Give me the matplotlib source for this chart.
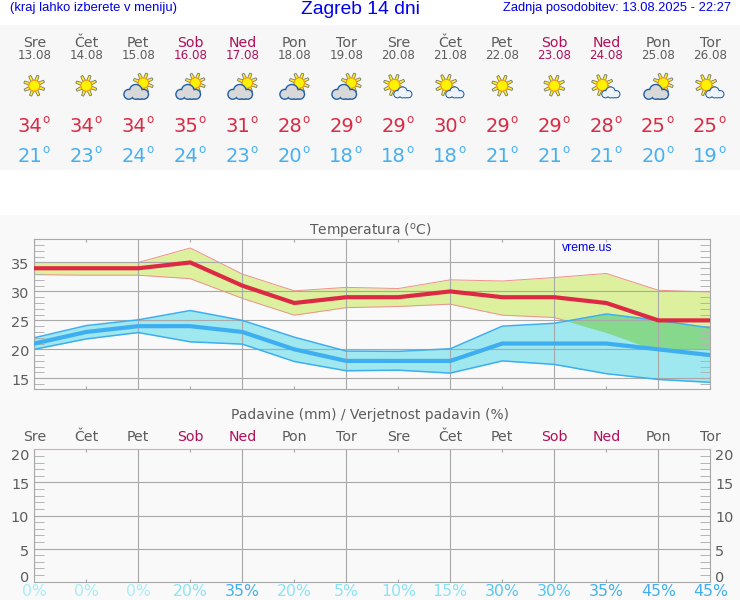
"""Zagreb 14 dni: napoved temperature in padavin."""
import matplotlib

matplotlib.use("Agg")
import matplotlib.pyplot as plt
import numpy as np
from matplotlib.patches import Circle, Polygon, Rectangle

# --- podatki ---
DAYS = ["Sre", "Čet", "Pet", "Sob", "Ned", "Pon", "Tor", "Sre", "Čet", "Pet", "Sob", "Ned", "Pon", "Tor"]
DATES = ["13.08", "14.08", "15.08", "16.08", "17.08", "18.08", "19.08",
         "20.08", "21.08", "22.08", "23.08", "24.08", "25.08", "26.08"]
ICONS = ["sun", "sun", "cloud", "cloud", "cloud", "cloud", "cloud",
         "mix", "mix", "sun", "sun", "mix", "cloud", "mix"]
T_MAX = [34, 34, 34, 35, 31, 28, 29, 29, 30, 29, 29, 28, 25, 25]
T_MIN = [21, 23, 24, 24, 23, 20, 18, 18, 18, 21, 21, 21, 20, 19]
MAX_HI = [35, 35, 35, 37.5, 33, 30.1, 30.7, 30.5, 32, 31.8, 32.4, 33.1, 30.2, 29.9]
MAX_LO = [32.9, 32.8, 32.8, 32.2, 28.8, 25.9, 27.2, 27.4, 27.8, 25.9, 25.5, 22.9, 19.7, 20.2]
MIN_HI = [22, 24.1, 25.1, 26.7, 25, 22.1, 19.7, 19.65, 20.1, 24, 24.5, 26.1, 25, 23.7]
MIN_LO = [20, 21.8, 22.9, 21.3, 20.9, 17.9, 16.3, 16.4, 15.9, 18, 17.4, 15.8, 14.8, 14.3]
RAIN = [0] * 14
RAIN_PROB = [0, 0, 0, 20, 35, 20, 5, 10, 15, 30, 30, 35, 45, 45]

# --- barve ---
GREY = "#5c5c5c"
WEEKEND = "#b0105a"
RED = "#dc2a44"
BLUE = "#3eaef0"
GRID = "#a8a8a8"
W, H = 740, 600
X0, X1 = 34.3, 710.3
STEP = (X1 - X0) / 13
x = np.arange(14)


def px_axes(fig, left, top, right, bottom):
    return fig.add_axes([left / W, 1 - bottom / H, (right - left) / W, (bottom - top) / H])


def prob_color(p):
    if p == 0:
        return "#a5eefa"
    if p <= 20:
        return "#8ae4f7"
    if p <= 30:
        return "#55c6f4"
    return "#42aff0"


def draw_sun(ax, cx, cy, r, zorder=3):
    # 8 zarkov, nato sredica
    for a in np.arange(0, 2 * np.pi, np.pi / 4) + 0.35:
        ca, sa = np.cos(a), np.sin(a)
        corners = []
        for dist, half in ((r * 0.9, 1.5), (r * 1.95, 1.1)):
            corners.append((cx + ca * dist - sa * half, cy + sa * dist + ca * half))
            corners.insert(0, (cx + ca * dist + sa * half, cy + sa * dist - ca * half))
        ax.add_patch(Polygon(corners, fc="#fff02a", ec="#77776a", lw=0.6, zorder=zorder))
    ax.add_patch(Circle((cx, cy), r, fc="#fff200", ec="#f09a18", lw=0.8, zorder=zorder + 0.1))


def draw_cloud(ax, cx, cy, scale, fill, zorder=4):
    # silueta iz krogov: najprej rob, nato polnilo
    blobs = [(-8, 2.3, 4.2), (-1, -1.2, 5.6), (6.8, 2.3, 4.2), (-1, 2.6, 4.0), (3, 2.4, 4.2)]
    for grow, col, z in ((1.4, "#1f5fa8", 0), (0, fill, 0.1)):
        for dx, dy, r in blobs:
            ax.add_patch(Circle((cx + dx * scale, cy + dy * scale), (r + grow) * scale,
                                fc=col, ec="none", zorder=zorder + z))


def degree_text(ax, cx, cy, value, color):
    ax.text(cx + 7.7, cy, str(value), color=color, fontsize=14, ha="right", va="center_baseline")
    ax.text(cx + 8.3, cy - 6.7, "o", color=color, fontsize=8.6, ha="left", va="center_baseline")


def draw_header(bg):
    bg.add_patch(Rectangle((0, 25), W, 145, fc="#f7f7f7", ec="none", zorder=0))
    bg.add_patch(Rectangle((0, 215), W, 385, fc="#f9f9f9", ec="none", zorder=0))
    bg.text(10, 7.5, "(kraj lahko izberete v meniju)", color="#0000e6", fontsize=9.4,
            family="Liberation Sans", va="center")
    bg.text(360, 10, "Zagreb 14 dni", color="#0000f0", fontsize=13.9,
            family="Liberation Sans", ha="center", va="center")
    bg.text(731, 7.5, "Zadnja posodobitev: 13.08.2025 - 22:27", color="#0000e6", fontsize=9.3,
            family="Liberation Sans", ha="right", va="center")
    for i in range(14):
        cx = X0 + i * STEP
        col = WEEKEND if DAYS[i] in ("Sob", "Ned") else GREY
        bg.text(cx, 43, DAYS[i], color=col, fontsize=10.2, ha="center", va="center")
        bg.text(cx, 55.5, DATES[i], color=col, fontsize=8.6, ha="center", va="center")
        if ICONS[i] == "sun":
            draw_sun(bg, cx, 85.7, 5.5)
        elif ICONS[i] == "cloud":
            draw_sun(bg, cx + 5, 83, 5.2)
            draw_cloud(bg, cx - 1.5, 92, 1.0, "#d8d8d8")
        else:
            draw_sun(bg, cx - 4, 85, 5.6)
            draw_cloud(bg, cx + 5, 92.5, 0.74, "#eef4fa")
        degree_text(bg, cx, 125, T_MAX[i], RED)
        degree_text(bg, cx, 155, T_MIN[i], "#45b0f2")


def style_axes(ax, ymin, ymax, major, minor):
    ax.set_xlim(0, 13)
    ax.set_ylim(ymin, ymax)
    ax.set_facecolor("none")
    ax.set_xticks(np.arange(0, 14, 2))
    ax.set_xticks(np.arange(1, 14, 2), minor=True)
    ax.set_yticks(major)
    ax.set_yticks(minor, minor=True)
    ax.grid(True, which="major", color=GRID, lw=0.8)
    ax.tick_params(which="major", labelbottom=False, labelleft=False, left=False, bottom=False)
    for side in ax.spines.values():
        side.set_color(GRID)
        side.set_linewidth(0.8)
    ax.tick_params(axis="x", which="minor", bottom=True, top=True, length=2.2, width=0.8,
                   color=GRID, direction="in", labelbottom=False)
    ax.tick_params(axis="y", which="minor", left=True, right=True, length=7.5, width=0.7,
                   color="#b4b4b4", direction="in", labelleft=False)


def y_label(ax, value, offset, side="left"):
    tr = ax.get_yaxis_transform()
    px = -5 if side == "left" else 5
    ax.annotate(str(value), (0 if side == "left" else 1, value), xycoords=tr,
                xytext=(px * 0.72, offset * 0.72), textcoords="offset points",
                ha="right" if side == "left" else "left", va="center", color=GREY,
                fontsize=10.4, annotation_clip=False)


fig = plt.figure(figsize=(W / 100, H / 100), dpi=100, facecolor="white")
bg = fig.add_axes([0, 0, 1, 1], zorder=0)
bg.set_xlim(0, W)
bg.set_ylim(H, 0)
bg.axis("off")
draw_header(bg)

# --- temperatura ---
ax = px_axes(fig, X0, 239.3, X1, 389)
style_axes(ax, 13.15, 39, [15, 20, 25, 30, 35],
           [v for v in range(14, 39) if v % 5])
hi_r, lo_r, hi_b, lo_b = map(np.array, (MAX_HI, MAX_LO, MIN_HI, MIN_LO))
ax.fill_between(x, lo_r, hi_r, color="#dcf09e", lw=0, zorder=1)
# rdeci rob gre pod modro polnilo
ax.plot(x, hi_r, color="#f0908c", lw=0.7, zorder=1.05)
ax.plot(x, lo_r, color="#f0908c", lw=0.7, zorder=1.05)
ax.fill_between(x, lo_b, hi_b, color="#9fe8f0", lw=0, zorder=1.1)
ov_lo, ov_hi = np.maximum(lo_r, lo_b), np.minimum(hi_r, hi_b)
ax.fill_between(x, ov_lo, ov_hi, where=ov_hi > ov_lo, interpolate=True, color="#86d98c", lw=0, zorder=1.2)
ax.plot(x, hi_b, color=BLUE, lw=1.1)
ax.plot(x, lo_b, color=BLUE, lw=1.1)
ax.plot(x, T_MAX, color=RED, lw=3.0, solid_joinstyle="miter", zorder=3)
ax.plot(x, T_MIN, color=BLUE, lw=3.0, solid_joinstyle="miter", zorder=2.9)
for v in (15, 20, 25, 30, 35):
    y_label(ax, v, -2.5)
fig.text(370 / W, 1 - 235.5 / H, "Temperatura ($\\mathregular{^o}$C)", color=GREY, fontsize=10,
         ha="center", va="baseline")
fig.text(587 / W, 1 - 248 / H, "vreme.us", color="#0000f0", fontsize=8.8,
         family="Liberation Sans", ha="center", va="center")

# --- padavine ---
ax2 = px_axes(fig, X0, 449.3, X1, 581.7)
style_axes(ax2, 0, 20, [5, 10, 15], [v for v in range(1, 20) if v % 5])
ax2.spines["top"].set_color("#e6a0c0")
ax2.bar(x, RAIN, width=0.6, color=BLUE)
for v, off in ((20, -7), (15, -3), (10, -3), (5, -3), (0, 3.7)):
    y_label(ax2, v, off)
    y_label(ax2, v, off, "right")
tr = ax2.get_xaxis_transform()
for i in range(14):
    col = WEEKEND if DAYS[i] in ("Sob", "Ned") else GREY
    ax2.text(i, 1 + 12.5 / 132.4, DAYS[i], color=col, fontsize=10.2, ha="center", va="center",
             transform=tr, clip_on=False)
    ax2.text(i, -10.3 / 132.4, f"{RAIN_PROB[i]}%", color=prob_color(RAIN_PROB[i]), fontsize=11.3,
             ha="center", va="center", transform=tr, clip_on=False)
fig.text(370 / W, 1 - 415.5 / H, "Padavine (mm) / Verjetnost padavin (%)", color=GREY, fontsize=10,
         ha="center", va="center")

fig.savefig("out.png", dpi=100)
